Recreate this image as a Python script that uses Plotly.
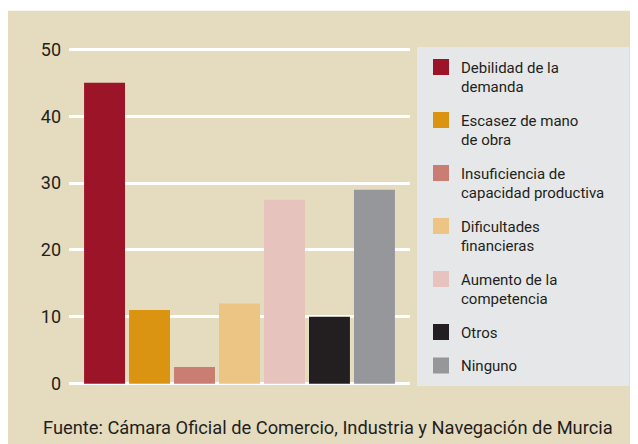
import plotly.graph_objects as go

categories = ["Debilidad de la<br>demanda", "Escasez de mano<br>de obra",
              "Insuficiencia de<br>capacidad productiva\u00a0\u00a0\u00a0\u00a0", "Dificultades<br>financieras",
              "Aumento de la<br>competencia", "Otros", "Ninguno"]
values = [45, 11, 2.5, 12, 27.5, 10, 29]
colors = ["#9b1427", "#db9412", "#c97d73", "#ecc584", "#e6c3bd", "#231f20", "#96979a"]
yticks = [0, 10, 20, 30, 40, 50]
source = "Fuente: Cámara Oficial de Comercio, Industria y Navegación de Murcia"

OFF = 8  # page body margin
W, H = 638, 444
L, R, T, B = 69 - OFF, 410 - OFF, 46.15 - OFF, 387.35 - OFF
pw, ph = R - L, B - T

def px(x):
    return (x - OFF - L) / pw

def py(y):
    return (B - (y - OFF)) / ph

FONT = "Roboto"
TXT = "#231f20"
LEG_BG = "#e6e7e8"
fig = go.Figure()
for i, (c, v, col) in enumerate(zip(categories, values, colors)):
    fig.add_trace(go.Bar(x=[i], y=[v], marker=dict(color=col, line=dict(width=0)),
                         width=0.91, showlegend=False, legendgroup=str(i)))
for i, (c, col) in enumerate(zip(categories, colors)):
    fig.add_trace(go.Scatter(x=[None], y=[None], mode="markers", name=c, legendgroup=str(i),
                             marker=dict(symbol="square", size=16, color=col)))

fig.add_shape(type="rect", xref="paper", yref="paper", x0=px(8), x1=px(660), y0=py(470), y1=py(11),
              fillcolor="#e5dbbf", line=dict(width=0), layer="below")

fig.update_layout(
    width=W, height=H,
    margin=dict(l=L, r=W - R, t=T, b=H - B, pad=0),
    paper_bgcolor="white", plot_bgcolor="rgba(0,0,0,0)",
    barmode="overlay",
    font=dict(family=FONT, color=TXT),
    xaxis=dict(range=[-0.79, 6.79], showticklabels=False, showgrid=False, zeroline=False,
               showline=False, ticks=""),
    yaxis=dict(range=[-0.5, 50.5], tickvals=yticks, showgrid=True, gridcolor="white", gridwidth=2.5,
               zeroline=False, showline=False, ticks="", ticklabelstandoff=7,
               tickfont=dict(size=18, color=TXT, family=FONT)),
    legend=dict(x=px(417), y=py(47), xanchor="left", yanchor="top", bgcolor=LEG_BG,
                font=dict(size=15, color=TXT, family=FONT), tracegroupgap=11, itemsizing="trace",
                valign="top", borderwidth=4, bordercolor=LEG_BG),
    annotations=[dict(text=source, xref="paper", yref="paper", x=px(328), y=py(428),
                      xanchor="center", yanchor="middle", showarrow=False,
                      font=dict(size=18.3, color=TXT, family=FONT))],
)
fig.write_html("out.html")
